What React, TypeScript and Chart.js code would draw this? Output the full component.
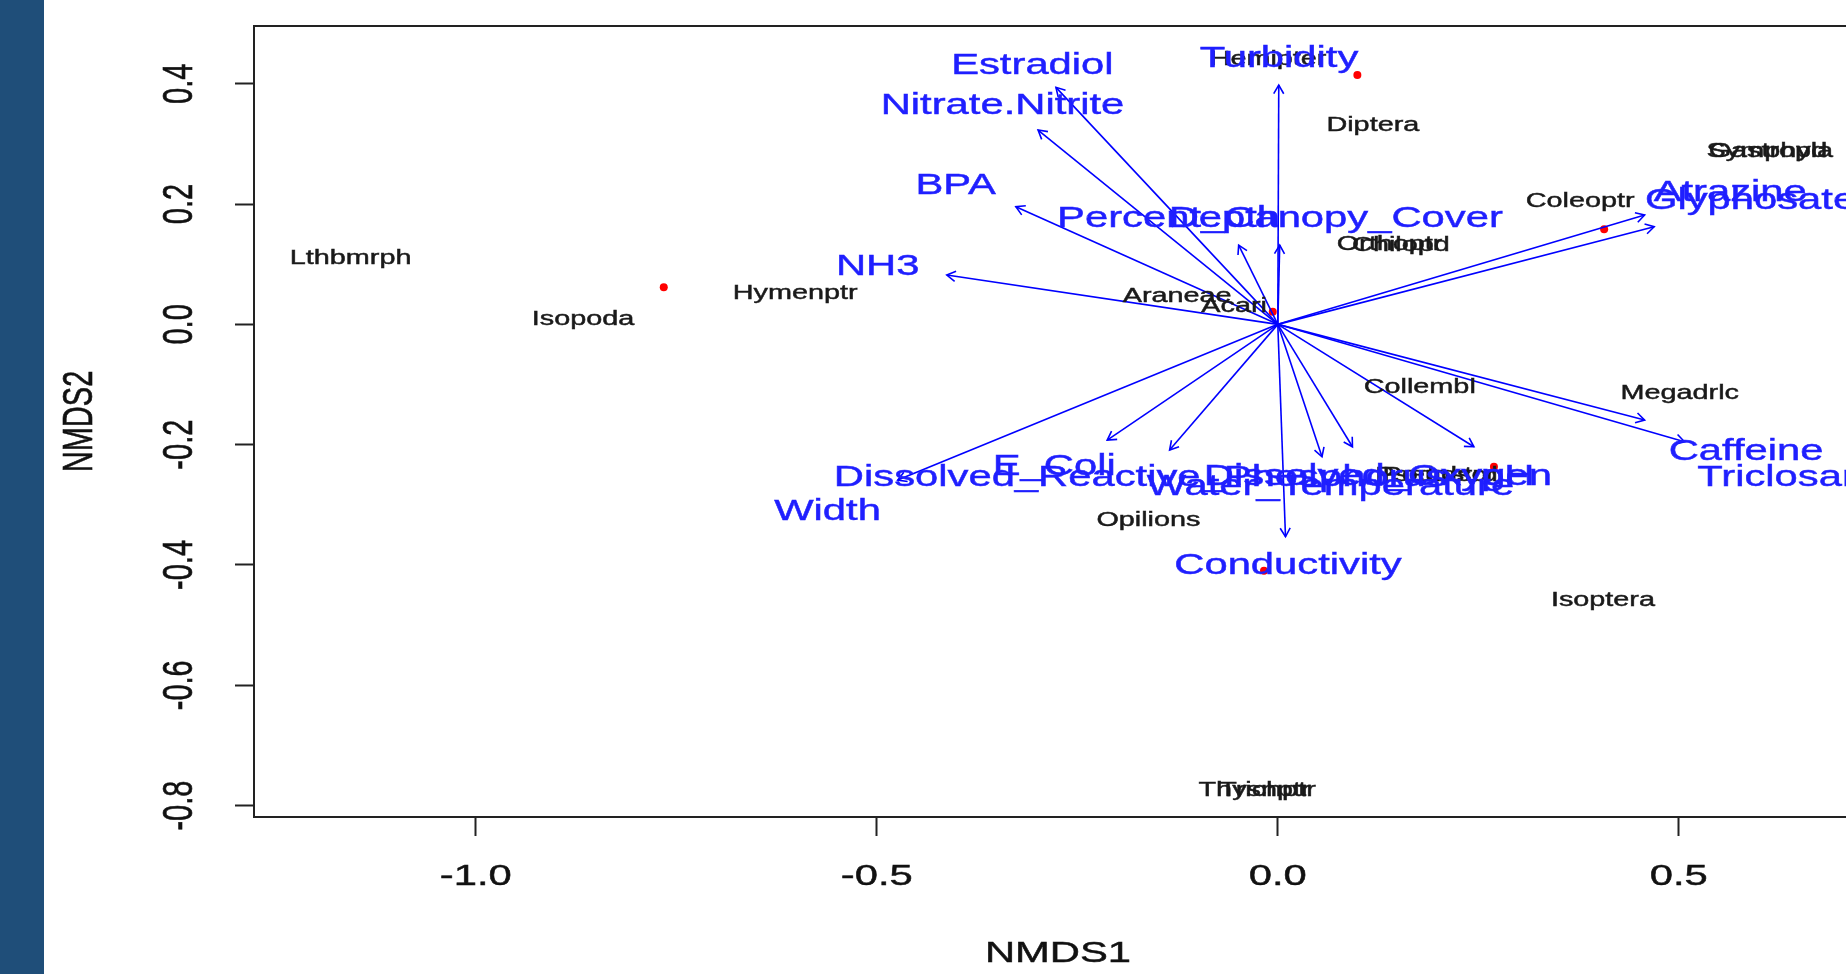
import React, { useEffect, useRef } from "react";
import { Chart, registerables } from "chart.js";

Chart.register(...registerables);

// ---- data (NMDS coordinates) ----
const siteX = [-0.7656, 0.0992, 0.4069, -0.0063, -0.0172, 0.2695];
const siteY = [0.0615, 0.4145, 0.1579, 0.0209, -0.4096, -0.2367];

const speciesNames = [
  "Lthbmrph", "Isopoda", "Hymenptr", "Diptera", "Hemipter", "Gastropd", "Symphyla",
  "Coleoptr", "Orthoptr", "Chilopd", "Araneae", "Acari", "Collembl", "Megadrlc",
  "Pseudscr", "Podostrd", "Opilions", "Isoptera", "Thysnptr", "Trichptr",
];
const speciesX = [
  -1.156, -0.8662, -0.6017, 0.1185, -0.0122, 0.6111, 0.6135,
  0.377, 0.1393, 0.1535, -0.1255, -0.0545, 0.177, 0.5012,
  0.1965, 0.2025, -0.1613, 0.4054, -0.029, -0.0129,
];
const speciesY = [
  0.1124, 0.0106, 0.0542, 0.3333, 0.4427, 0.2903, 0.2903,
  0.2078, 0.1357, 0.1340, 0.0487, 0.0321, -0.1026, -0.112,
  -0.2477, -0.2477, -0.3225, -0.4555, -0.7714, -0.7714,
];

const vectorNames = [
  "Turbidity", "Estradiol", "Nitrate.Nitrite", "BPA", "NH3", "Depth",
  "Percent_Canopy_Cover", "Atrazine", "Glyphosate", "Caffeine", "Triclosan", "pH",
  "Dissolved_Oxygen", "Water_Temperature", "Conductivity",
  "Dissolved_Reactive_Phosphorus", "E_Coli", "Width",
];
const vectorX = [
  0.0012, -0.2766, -0.2989, -0.3266, -0.4127, -0.0488,
  0.0024, 0.4574, 0.4693, 0.4574, 0.5071, 0.2445,
  0.0931, 0.0551, 0.0096, -0.1349, -0.2127, -0.4739,
];
const vectorY = [
  0.3978, 0.394, 0.323, 0.1955, 0.082, 0.1318,
  0.1318, 0.1817, 0.1623, -0.1591, -0.1952, -0.2035,
  -0.2035, -0.2201, -0.3531, -0.209, -0.1924, -0.2589,
];
const labelX = [
  0.0015, -0.306, -0.3433, -0.4017, -0.4989, -0.0666,
  0.0027, 0.5641, 0.5894, 0.5839, 0.6277, 0.2866,
  0.1247, 0.0656, 0.0127, -0.1715, -0.2788, -0.5614,
];
const labelY = [
  0.4449, 0.4339, 0.3674, 0.2344, 0.0986, 0.1797,
  0.1789, 0.2219, 0.2084, -0.2089, -0.2519, -0.2506,
  -0.2506, -0.2656, -0.3973, -0.2522, -0.2339, -0.3087,
];

const xTicks = [-1.0, -0.5, 0.0, 0.5];
const yTicks = [-0.8, -0.6, -0.4, -0.2, 0.0, 0.2, 0.4];
const xRange = [-1.2765, 0.7284];
const yRange = [-0.819, 0.496];
const xTitle = "NMDS1";
const yTitle = "NMDS2";

// ---- styling ----
const FONT = '"Liberation Sans", Arial, Helvetica, sans-serif';
const SX = 1.44; // horizontal stretch of the original screenshot
const AXIS_SIZE = 29;
const VEC_SIZE = 29;
const SPP_SIZE = 20;
const BLUE = "#0000ff";
const BLUE_TEXT = "#1f1fff";

function drawText(
  ctx: CanvasRenderingContext2D,
  text: string,
  x: number,
  y: number,
  size: number,
  color: string,
  rotated = false,
  stroke = 0.45
) {
  ctx.save();
  ctx.translate(x, y);
  ctx.scale(SX, 1);
  if (rotated) ctx.rotate(-Math.PI / 2);
  ctx.font = `${size}px ${FONT}`;
  ctx.fillStyle = color;
  ctx.strokeStyle = color;
  ctx.lineWidth = stroke;
  ctx.textAlign = "center";
  ctx.textBaseline = "alphabetic";
  ctx.fillText(text, 0, 0.358 * size);
  if (stroke > 0) ctx.strokeText(text, 0, 0.358 * size);
  ctx.restore();
}

const annotate = {
  id: "annotate",
  afterDatasetsDraw(chart: any) {
    const ctx: CanvasRenderingContext2D = chart.ctx;
    const xs = chart.scales.x;
    const ys = chart.scales.y;
    const ox = xs.getPixelForValue(0);
    const oy = ys.getPixelForValue(0);
    ctx.save();
    ctx.strokeStyle = BLUE;
    ctx.lineWidth = 1.6;
    vectorX.forEach((vx, i) => {
      const px = xs.getPixelForValue(vx);
      const py = ys.getPixelForValue(vectorY[i]);
      const a = Math.atan2(py - oy, px - ox);
      const L = 10;
      const w = Math.PI / 6;
      ctx.beginPath();
      ctx.moveTo(px - L * Math.cos(a - w), py - L * Math.sin(a - w));
      ctx.lineTo(px, py);
      ctx.lineTo(px - L * Math.cos(a + w), py - L * Math.sin(a + w));
      ctx.stroke();
    });
    ctx.restore();
  },
  afterDraw(chart: any) {
    const ctx: CanvasRenderingContext2D = chart.ctx;
    const xs = chart.scales.x;
    const ys = chart.scales.y;
    const area = chart.chartArea;

    // top side of the box
    ctx.save();
    ctx.strokeStyle = "#222";
    ctx.lineWidth = 2;
    ctx.beginPath();
    ctx.moveTo(area.left, area.top);
    ctx.lineTo(area.right, area.top);
    ctx.stroke();
    ctx.restore();

    // species labels
    speciesNames.forEach((n, i) => {
      drawText(ctx, n, xs.getPixelForValue(speciesX[i]), ys.getPixelForValue(speciesY[i]), SPP_SIZE, "#1a1a1a");
    });
    // vector labels
    vectorNames.forEach((n, i) => {
      drawText(ctx, n, xs.getPixelForValue(labelX[i]), ys.getPixelForValue(labelY[i]), VEC_SIZE, BLUE_TEXT);
    });

    // tick labels
    xs.ticks.forEach((t: any) => {
      drawText(ctx, t.value.toFixed(1), xs.getPixelForValue(t.value), area.bottom + 58, AXIS_SIZE, "#111");
    });
    ys.ticks.forEach((t: any) => {
      drawText(ctx, t.value.toFixed(1), area.left - 77, ys.getPixelForValue(t.value), AXIS_SIZE, "#111", true);
    });
    // titles
    drawText(ctx, xTitle, (area.left + area.right) / 2, area.bottom + 135, AXIS_SIZE, "#111");
    drawText(ctx, yTitle, area.left - 177, (area.top + area.bottom) / 2, AXIS_SIZE, "#111", true);
  },
};

export default function App() {
  const ref = useRef<HTMLCanvasElement | null>(null);

  useEffect(() => {
    if (!ref.current) return;
    const datasets: any[] = [];
    vectorX.forEach((vx, i) => {
      datasets.push({
        type: "scatter",
        label: vectorNames[i],
        data: [
          { x: 0, y: 0 },
          { x: vx, y: vectorY[i] },
        ],
        showLine: true,
        borderColor: BLUE,
        borderWidth: 1.6,
        pointRadius: 0,
        fill: false,
      });
    });
    datasets.push({
      type: "scatter",
      label: "species",
      data: speciesX.map((x, i) => ({ x, y: speciesY[i] })),
      pointRadius: 0,
    });
    datasets.push({
      type: "scatter",
      label: "sites",
      data: siteX.map((x, i) => ({ x, y: siteY[i] })),
      pointRadius: 4,
      pointBackgroundColor: "#ff0000",
      pointBorderWidth: 0,
      pointStyle: "circle",
    });

    const chart = new Chart(ref.current, {
      type: "scatter",
      data: { datasets },
      options: {
        animation: false,
        responsive: false,
        devicePixelRatio: 1,
        layout: { padding: { top: 26, right: 1, left: 0, bottom: 0 } },
        plugins: { legend: { display: false }, tooltip: { enabled: false } },
        events: [],
        scales: {
          x: {
            type: "linear",
            min: xRange[0],
            max: xRange[1],
            afterBuildTicks: (s: any) => {
              s.ticks = xTicks.map((v) => ({ value: v }));
            },
            afterFit: (s: any) => {
              s.height = 157;
            },
            ticks: { display: false },
            grid: {
              display: true,
              drawOnChartArea: false,
              drawTicks: true,
              tickLength: 19,
              tickColor: "#222",
              tickWidth: 2,
            },
            border: { display: true, color: "#222", width: 2 },
          },
          y: {
            type: "linear",
            min: yRange[0],
            max: yRange[1],
            afterBuildTicks: (s: any) => {
              s.ticks = yTicks.map((v) => ({ value: v }));
            },
            afterFit: (s: any) => {
              s.width = 254;
            },
            ticks: { display: false },
            grid: {
              display: true,
              drawOnChartArea: false,
              drawTicks: true,
              tickLength: 19,
              tickColor: "#222",
              tickWidth: 2,
            },
            border: { display: true, color: "#222", width: 2 },
          },
        },
      },
      plugins: [annotate],
    } as any);
    return () => chart.destroy();
  }, []);

  return (
    <div
      style={{
        position: "fixed",
        left: 0,
        top: 0,
        width: 1846,
        height: 974,
        overflow: "hidden",
        background: "#ffffff",
      }}
    >
      <div
        style={{ position: "absolute", left: 0, top: 0, width: 44, height: 974, background: "#1f4e79" }}
      />
      <canvas
        ref={ref}
        width={1866}
        height={974}
        style={{ position: "absolute", left: 0, top: 0, width: 1866, height: 974 }}
      />
    </div>
  );
}
